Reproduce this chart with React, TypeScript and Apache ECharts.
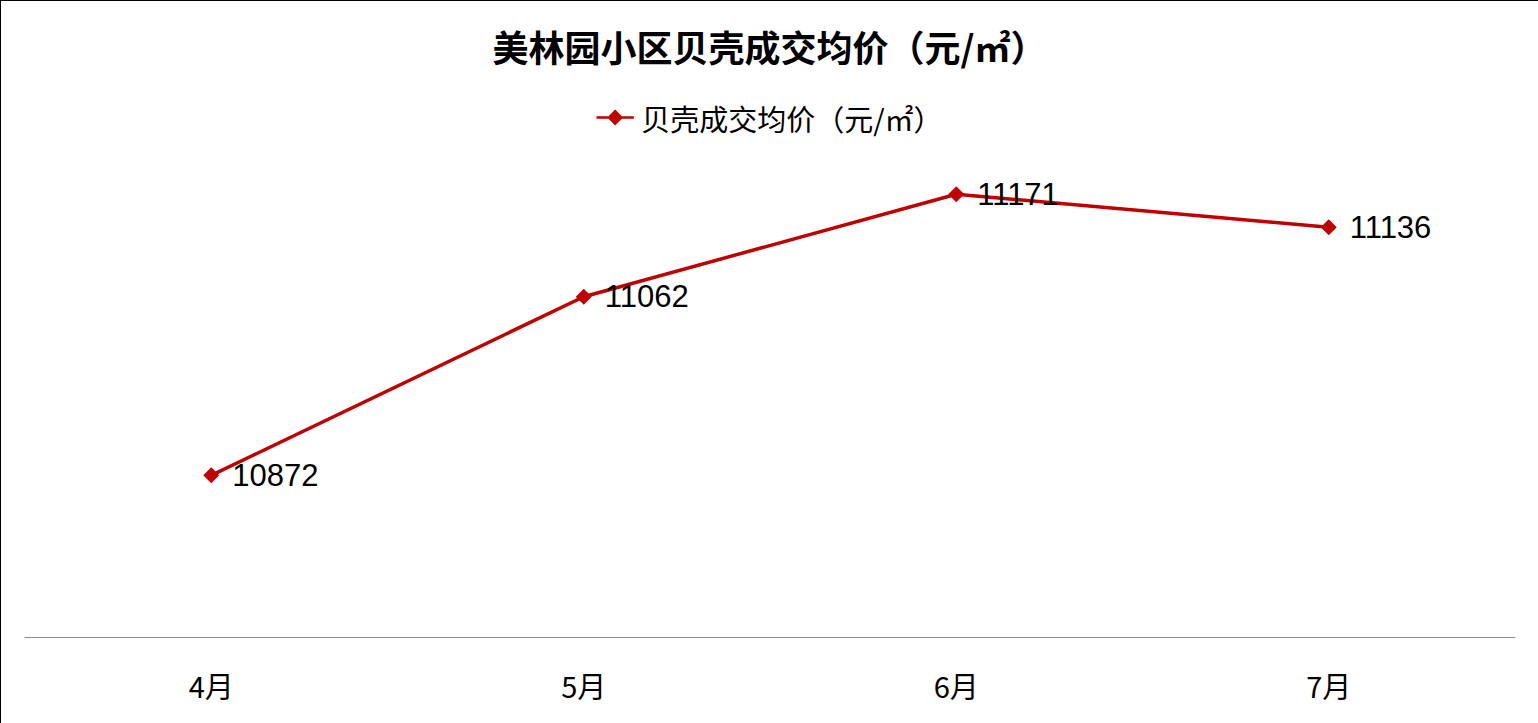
import React, { useEffect, useRef } from "react";
import * as echarts from "echarts";

const titleText = "美林园小区贝壳成交均价（元/㎡）";
const seriesName = "贝壳成交均价（元/㎡）";
const categories = ["4月", "5月", "6月", "7月"];
const prices = [10872, 11062, 11171, 11136];

export default function App() {
  const ref = useRef<HTMLDivElement>(null);
  useEffect(() => {
    if (!ref.current) return;
    const chart = echarts.init(ref.current, null, { renderer: "svg" });
    const font = "'Noto Sans CJK SC', 'Noto Sans', sans-serif";
    chart.setOption({
      animation: false,
      backgroundColor: "#ffffff",
      title: {
        text: titleText,
        left: "center",
        top: 22,
        textStyle: { fontSize: 36, fontWeight: "bold", color: "#000", fontFamily: font },
      },
      legend: {
        data: [{ name: seriesName, icon: "path://M0,4 L9,4 L14,-1 L19,4 L28,4 L28,6 L19,6 L14,11 L9,6 L0,6 Z" }],
        top: 97,
        left: "center",
        itemWidth: 42,
        itemHeight: 16,
        itemGap: 6,
        textStyle: { fontSize: 29, color: "#000", fontFamily: font },
      },
      grid: { left: 24, right: 23, top: 166, bottom: 86 },
      xAxis: {
        type: "category",
        data: categories,
        boundaryGap: true,
        axisLine: { lineStyle: { color: "#8c8c8c", width: 1 } },
        axisTick: { show: false },
        axisLabel: { fontSize: 29, color: "#000", margin: 33, fontFamily: font },
      },
      yAxis: {
        type: "value",
        min: 10700,
        max: 11200,
        show: false,
        splitLine: { show: false },
      },
      series: [
        {
          name: seriesName,
          type: "line",
          data: prices,
          symbol: "diamond",
          symbolSize: 16,
          color: "#C00000",
          lineStyle: { color: "#C00000", width: 3.5 },
          itemStyle: { color: "#C00000" },
          label: {
            show: true,
            position: "right",
            distance: 13,
            fontSize: 31,
            color: "#000",
            fontFamily: "'Liberation Sans', 'Noto Sans', sans-serif",
          },
        },
      ],
    });
    return () => chart.dispose();
  }, []);
  return (
    <div
      style={{
        position: "fixed",
        left: 0,
        top: 0,
        width: 1538,
        height: 723,
        boxSizing: "border-box",
        borderTop: "1px solid #000",
        borderLeft: "1px solid #000",
        background: "#fff",
      }}
    >
      <div ref={ref} style={{ width: "100%", height: "100%" }} />
    </div>
  );
}
